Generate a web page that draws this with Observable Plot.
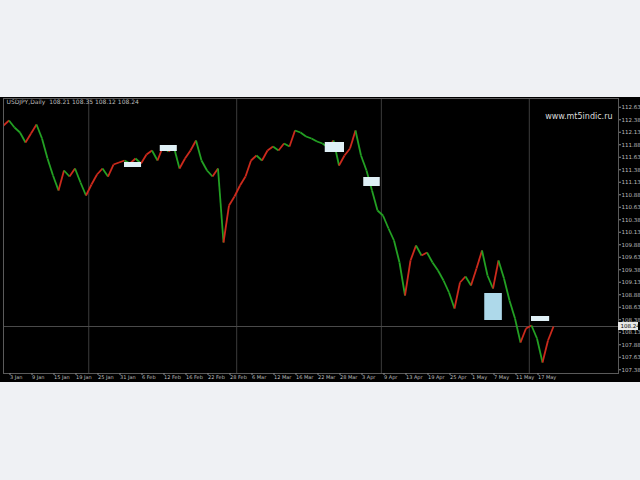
<!DOCTYPE html>
<html><head><meta charset="utf-8">
<script src="https://cdn.jsdelivr.net/npm/d3@7"></script>
<script src="https://cdn.jsdelivr.net/npm/@observablehq/plot@0.6"></script>
<style>
body{margin:0;background:#eff1f4;font-family:"DejaVu Sans",sans-serif}
#chart{padding-top:97px;line-height:0}
</style>
</head><body><div id="chart"></div>
<script>
// ---- data ----
const header = "USDJPY,Daily  108.21 108.35 108.12 108.24";
const watermark = "www.mt5indic.ru";
const firstOpen = 112.30;
const closes = [
  112.26,112.36,112.22,112.12,111.92,112.10,112.28,112.00,111.60,111.26,
  110.96,111.36,111.24,111.40,111.12,110.86,111.08,111.28,111.40,111.24,
  111.48,111.52,111.56,111.50,111.60,111.50,111.68,111.76,111.56,111.84,
  111.74,111.82,111.40,111.60,111.76,111.96,111.56,111.36,111.24,111.40,
  109.92,110.66,110.84,111.06,111.24,111.56,111.66,111.56,111.76,111.84,
  111.76,111.90,111.84,112.16,112.12,112.04,112.00,111.94,111.90,111.82,
  111.96,111.46,111.66,111.80,112.16,111.66,111.36,110.96,110.56,110.46,
  110.20,109.96,109.52,108.86,109.56,109.86,109.66,109.72,109.52,109.36,
  109.16,108.92,108.60,109.12,109.24,109.06,109.40,109.76,109.26,109.00,
  109.56,109.20,108.76,108.40,107.92,108.20,108.26,108.00,107.52,107.96,
  108.24
];
const priceTicks = [112.625,112.375,112.125,111.875,111.625,111.375,111.125,110.875,110.625,110.375,
  110.125,109.875,109.625,109.375,109.125,108.875,108.625,108.375,108.125,107.875,107.625,107.375];
const timeTickIdx = [1,5,9,13,17,21,25,29,33,37,41,45,49,53,57,61,65,69,73,77,81,85,89,93,97];
const timeTickLabels = ["3 Jan","9 Jan","15 Jan","19 Jan","25 Jan","31 Jan","6 Feb","12 Feb","16 Feb","22 Feb",
  "28 Feb","6 Mar","12 Mar","16 Mar","22 Mar","28 Mar","3 Apr","9 Apr","13 Apr","19 Apr",
  "25 Apr","1 May","7 May","11 May","17 May"];
const gridIdx = [15.5, 42.4, 68.7, 95.6];
// label boxes (index from/to, price from/to)
const boxX1 = [22.0, 28.5, 58.5, 65.5, 96.0];
const boxX2 = [25.1, 31.6, 62.0, 68.5, 99.3];
const boxY1 = [111.42, 111.74, 111.72, 111.04, 108.34];
const boxY2 = [111.52, 111.86, 111.92, 111.22, 108.44];
const blueBox = {x1: 87.5, x2: 90.7, y1: 108.36, y2: 108.90};

// ---- build ----
const candles = closes.map((c, i) => ({i, o: i ? closes[i - 1] : firstOpen, c}));
const boxes = boxX1.map((x, k) => ({x1: x, x2: boxX2[k], y1: boxY1[k], y2: boxY2[k]}));
const last = closes[closes.length - 1];
const xMax = 111.818;

const chart = Plot.plot({
  width: 640, height: 285,
  marginLeft: 3, marginRight: 22, marginTop: 1, marginBottom: 9,
  style: {background: "#000", fontFamily: "Tahoma, 'DejaVu Sans', sans-serif"},
  x: {domain: [0, xMax], axis: null},
  y: {domain: [107.30, 112.80], axis: null},
  marks: [
    Plot.ruleX(gridIdx, {stroke: "#3c3c3c", strokeWidth: 1}),
    Plot.ruleY([last], {stroke: "#4a4a4a", strokeWidth: 1}),
    Plot.rect([blueBox], {x1: "x1", x2: "x2", y1: "y1", y2: "y2", fill: "#aed9ea"}),
    Plot.link(candles, {
      x1: d => d.i - 1, y1: "o", x2: "i", y2: "c",
      stroke: d => d.c >= d.o ? "#cc2a1c" : "#23a023",
      strokeWidth: 1.8, clip: true
    }),
    Plot.rect(boxes, {x1: "x1", x2: "x2", y1: "y1", y2: "y2", fill: "#dff0f6"}),
    Plot.frame({stroke: "#5a5a5a"}),
    Plot.axisY(priceTicks, {anchor: "right", tickSize: 2, tickPadding: 1, fontSize: 5.5,
      tickFormat: d => d.toFixed(2), color: "#bdbdbd", stroke: "#8a8a8a"}),
    Plot.rect([last], {x1: xMax, x2: xMax, y1: d => d - 0.08, y2: d => d + 0.08,
      insetRight: -20, fill: "#e8e8e8", clip: false}),
    Plot.text([last], {x: xMax, y: d => d, dx: 2, text: d => d.toFixed(2),
      textAnchor: "start", fill: "#000", fontSize: 5.5, clip: false}),
    Plot.axisX(timeTickIdx, {anchor: "bottom", tickSize: 2, tickPadding: 0, fontSize: 5,
      tickFormat: (d, k) => timeTickLabels[k], textAnchor: "start", dx: 1,
      color: "#bdbdbd", stroke: "#8a8a8a"}),
    Plot.text([header], {frameAnchor: "top-left", dx: 3, dy: 1, fill: "#bcbcbc", fontSize: 6, lineAnchor: "top"}),
    Plot.text([watermark], {frameAnchor: "top-right", dx: -6, dy: 15, fill: "#dcdcdc", fontSize: 8, lineAnchor: "top"})
  ]
});
document.getElementById("chart").append(chart);
</script>
</body></html>
